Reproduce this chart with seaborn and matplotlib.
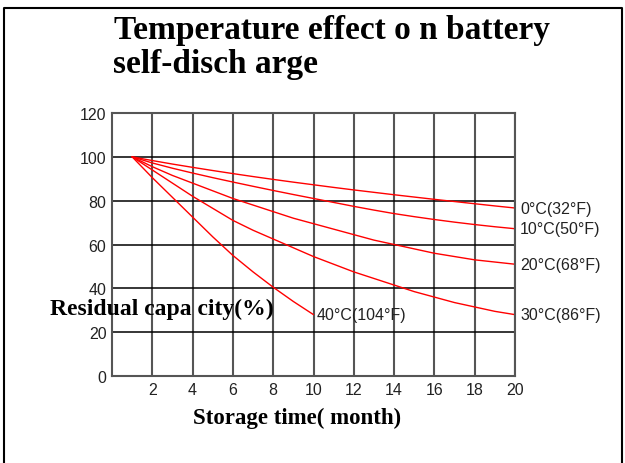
import pandas as pd
import numpy as np
import matplotlib
matplotlib.use("Agg")
import matplotlib.pyplot as plt
from matplotlib.lines import Line2D
import seaborn as sns

# Data (residual capacity % vs storage month)
months = list(range(1, 21))
cap_0c = [100, 98.3, 96.7, 95.2, 93.75, 92.35, 91.0, 89.7, 88.45, 87.25,
          86.05, 84.9, 83.8, 82.7, 81.65, 80.6, 79.6, 78.6, 77.6, 76.65]
cap_10c = [100, 97.2, 94.8, 92.6, 90.5, 88.5, 86.55, 84.65, 82.8, 81.0,
           79.2, 77.4, 75.7, 74.1, 72.7, 71.4, 70.2, 69.1, 68.1, 67.2]
cap_20c = [100, 95.5, 91.5, 88, 84.5, 81, 78, 75, 72, 69.5,
           67, 64.5, 62, 60, 58, 56, 54.5, 53, 52, 51]
cap_30c = [100, 94, 88, 82, 76.5, 71, 66.5, 62.5, 58.5, 54.5,
           51, 47.5, 44.5, 41.5, 38.5, 36, 33.5, 31.5, 29.5, 28]
months_40c = list(range(1, 11))
cap_40c = [100, 90.5, 81.5, 72.5, 63.5, 55, 47.5, 40.5, 34, 28]

labels = ["0°C(32°F)", "10°C(50°F)", "20°C(68°F)", "30°C(86°F)", "40°C(104°F)"]
x_ticks = [2, 4, 6, 8, 10, 12, 14, 16, 18, 20]
y_ticks = [0, 20, 40, 60, 80, 100, 120]

# long format table for seaborn
frames = []
for lab, xs, ys in zip(labels,
                       [months, months, months, months, months_40c],
                       [cap_0c, cap_10c, cap_20c, cap_30c, cap_40c]):
    frames.append(pd.DataFrame({"month": xs, "capacity": ys, "temp": lab}))
df = pd.concat(frames, ignore_index=True)

sns.set_style("white")

fig = plt.figure(figsize=(6.25, 4.64), dpi=100)
ax = fig.add_axes([112 / 625, 1 - 377 / 464, (515 - 112) / 625, (377 - 114) / 464])

sns.lineplot(data=df, x="month", y="capacity", hue="temp",
             palette=["red"] * 5, linewidth=1.0, legend=False, ax=ax)

ax.set_xlim(0, 20)
ax.set_ylim(0, 120)
ax.set_xticks(x_ticks)
ax.set_yticks(y_ticks)
ax.set_xlabel("")
ax.set_ylabel("")

# grid: vertical grey, horizontal black
for xv in x_ticks:
    ax.axvline(xv, color="#555555", lw=1.5, zorder=0)
for yv in y_ticks[1:]:
    ax.axhline(yv, color="black", lw=1.1, zorder=0)
for sp in ax.spines.values():
    sp.set_color("#555555")
    sp.set_linewidth(1.5)

tick_font = {"family": "Liberation Sans", "size": 11.5, "color": "#222222"}
ax.tick_params(length=0, pad=4)
ax.set_xticklabels([str(v) for v in x_ticks], fontdict=tick_font)
ax.set_yticklabels([str(v) for v in y_ticks], fontdict=tick_font)

# curve labels
ends = [cap_0c[-1], cap_10c[-1], cap_20c[-1], cap_30c[-1]]
for lab, yv in zip(labels[:4], ends):
    ax.text(20.25, yv, lab, va="center", ha="left", clip_on=False, **tick_font)
ax.text(10.15, cap_40c[-1], labels[4], va="center", ha="left", **tick_font)

serif = "Liberation Serif"
fig.text(114 / 625, 1 - 39 / 464, "Temperature effect o n battery",
         family=serif, weight="bold", size=24, color="black",
         va="baseline", ha="left")
fig.text(113 / 625, 1 - 73 / 464, "self-disch arge",
         family=serif, weight="bold", size=24, color="black",
         va="baseline", ha="left")
fig.text(50 / 625, 1 - 309 / 464, "Residual capa city(%)",
         family=serif, weight="bold", size=17, color="black",
         va="center", ha="left")
fig.text(193 / 625, 1 - 418 / 464, "Storage time( month)",
         family=serif, weight="bold", size=16.5, color="black",
         va="center", ha="left")

# outer frame
x0, x1, ytop = 4 / 625, 622 / 625, 1 - 9 / 464
fig.add_artist(Line2D([x0, x0, x1, x1], [0, ytop, ytop, 0], color="black",
                      lw=1.5, transform=fig.transFigure))

fig.savefig("out.png", dpi=100)
